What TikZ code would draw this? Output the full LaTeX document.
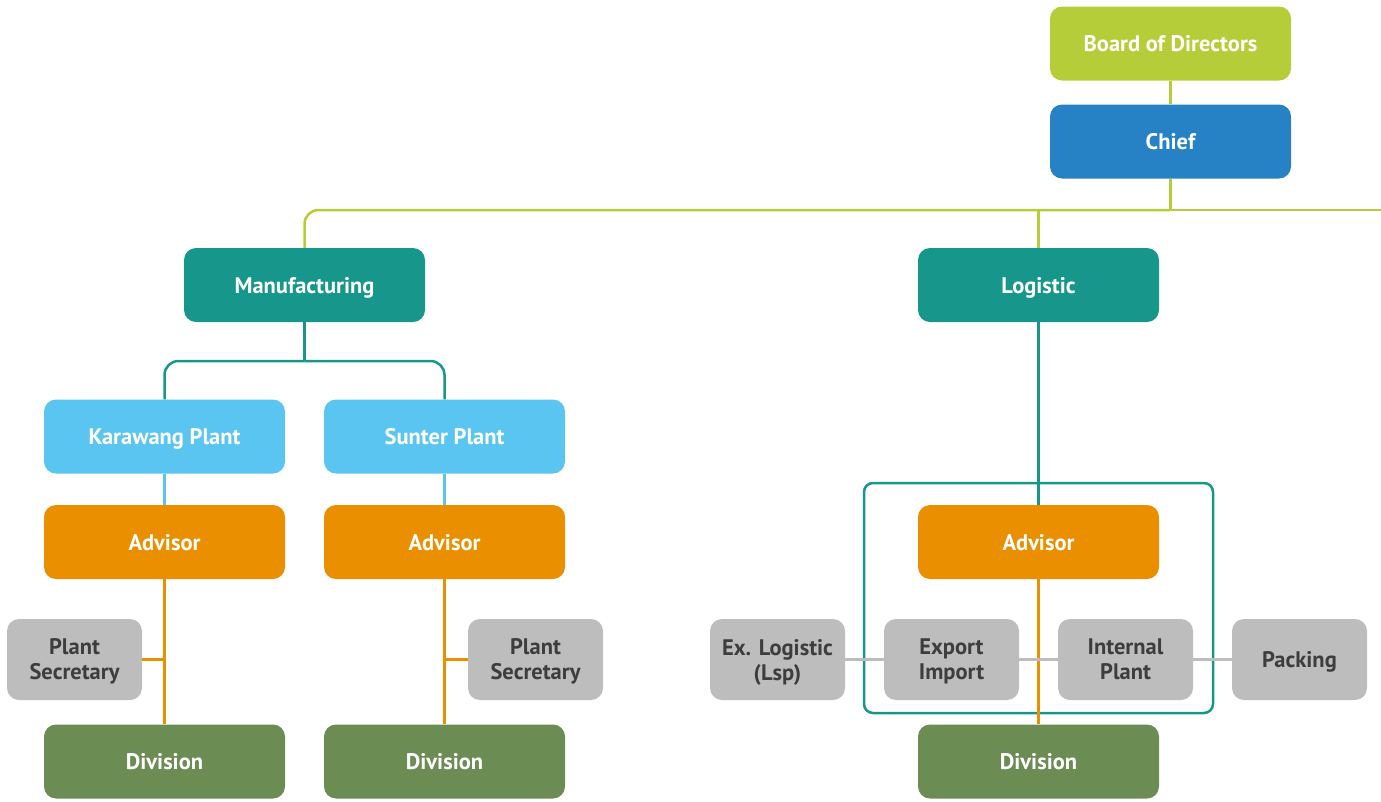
\documentclass[tikz,border=0pt]{standalone}
\usepackage{fontspec}
\setmainfont{PT Sans}
\usetikzlibrary{positioning}
\definecolor{boardgreen}{HTML}{B5CD39}
\definecolor{chiefblue}{HTML}{2681C5}
\definecolor{deptteal}{HTML}{17978B}
\definecolor{plantblue}{HTML}{5BC5F1}
\definecolor{advorange}{HTML}{E98F00}
\definecolor{divgreen}{HTML}{6B8C53}
\definecolor{softgray}{HTML}{BDBDBD}
\definecolor{graytext}{HTML}{3D3D3D}

\begin{document}
\begin{tikzpicture}[
  x=1pt, y=-1pt,
  font=\fontsize{22.5}{25}\selectfont\bfseries,
  unit/.style={rounded corners=12pt, text=white, align=center,
    minimum width=241pt, minimum height=74pt, inner sep=2pt,
    text height=17pt, text depth=1pt},
  board/.style={unit, fill=boardgreen},
  chief/.style={unit, fill=chiefblue},
  dept/.style={unit, fill=deptteal},
  plant/.style={unit, fill=plantblue},
  advisor/.style={unit, fill=advorange},
  division/.style={unit, fill=divgreen},
  staff/.style={unit, fill=softgray, text=graytext, minimum width=135pt,
    minimum height=81pt, text height=, text depth=0pt},
  frame/.style={draw=deptteal, line width=2.5pt, rounded corners=9pt,
    minimum width=349pt, minimum height=230pt},
  link/.style={line width=2.5pt},
  greenlink/.style={link, draw=boardgreen},
  teallink/.style={link, draw=deptteal},
  bluelink/.style={link, draw=plantblue},
  orangelink/.style={link, draw=advorange},
  graylink/.style={link, draw=softgray}
]
\useasboundingbox (0,0) rectangle (1381,801);

% top
\node[board] (bod) at (1170.5,43.5) {Board of Directors};
\node[chief] (chief) at (1170.5,141.5) {Chief};
\coordinate (bus) at (1170.5,210);
\coordinate (busend) at (1381,210);

% departments
\node[dept] (manu) at (304.5,285) {Manufacturing};
\node[dept] (logi) at (1038.5,285) {Logistic};

% manufacturing branch
\coordinate (msplit) at (304.5,361);
\node[plant] (kplant) at (164.5,436.5) {Karawang Plant};
\node[plant] (splant) at (444.5,436.5) {Sunter Plant};
\node[advisor] (kadv) at (164.5,542) {Advisor};
\node[advisor] (sadv) at (444.5,542) {Advisor};
\node[staff] (ksec) at (74.5,659.5) {Plant\\Secretary};
\node[staff] (ssec) at (535.5,659.5) {Plant\\Secretary};
\node[division] (kdiv) at (164.5,761.5) {Division};
\node[division] (sdiv) at (444.5,761.5) {Division};

% logistic branch
\node[frame] (lgroup) at (1038.5,598) {};
\node[advisor] (ladv) at (1038.5,542) {Advisor};
\node[staff] (exlog) at (777.5,659.5) {Ex. Logistic\\(Lsp)};
\node[staff] (expimp) at (951.5,659.5) {Export\\Import};
\node[staff] (intpl) at (1125.5,659.5) {Internal\\Plant};
\node[staff] (pack) at (1299.5,659.5) {Packing};
\node[division] (ldiv) at (1038.5,761.5) {Division};

% connectors
\draw[greenlink] (bod) -- (chief);
\draw[greenlink] (chief.south) -- (bus);
\draw[greenlink, rounded corners=14pt] (bus) -| (manu.north);
\draw[greenlink] (bus) -- (busend);
\draw[greenlink] (bus -| logi.north) -- (logi.north);

\draw[teallink] (manu.south) -- (msplit);
\draw[teallink, rounded corners=14pt] (msplit) -| (kplant.north);
\draw[teallink, rounded corners=14pt] (msplit) -| (splant.north);
\draw[bluelink] (kplant) -- (kadv);
\draw[bluelink] (splant) -- (sadv);
\draw[orangelink] (kadv) -- (kdiv);
\draw[orangelink] (sadv) -- (sdiv);
\draw[orangelink] (ksec.east) -- (ksec.east -| kadv.south);
\draw[orangelink] (ssec.west) -- (ssec.west -| sadv.south);

\draw[teallink] (logi) -- (ladv);
\draw[orangelink] (ladv) -- (ldiv);
\draw[graylink] (exlog) -- (expimp);
\draw[graylink] (expimp) -- (intpl);
\draw[graylink] (intpl) -- (pack);
\end{tikzpicture}
\end{document}
